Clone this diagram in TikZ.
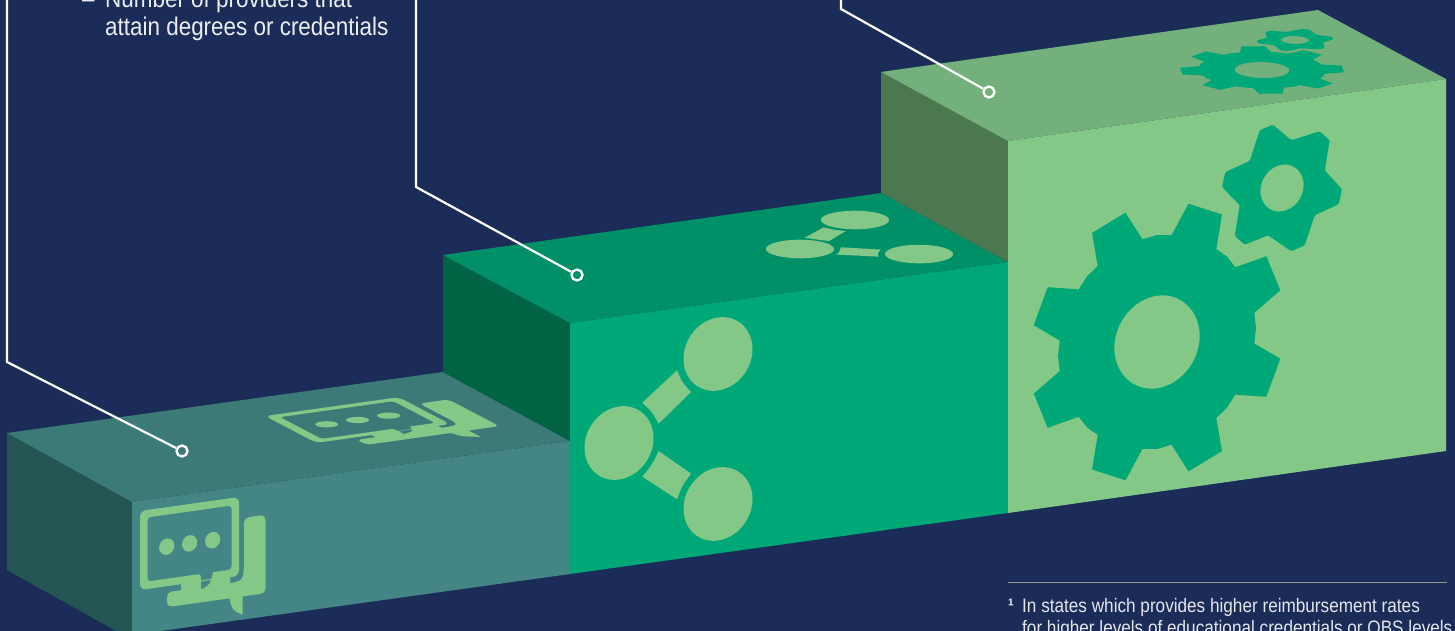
\documentclass[tikz,border=0pt]{standalone}
\usepackage{fontspec}
\setmainfont[FakeStretch=0.88]{Liberation Sans}
\definecolor{navy}{HTML}{1B2C58}
\definecolor{lowtop}{HTML}{3C7A78}
\definecolor{lowfront}{HTML}{438685}
\definecolor{lowside}{HTML}{235552}
\definecolor{midtop}{HTML}{009068}
\definecolor{midfront}{HTML}{00A878}
\definecolor{midside}{HTML}{006444}
\definecolor{hightop}{HTML}{74B07B}
\definecolor{highfront}{HTML}{84C888}
\definecolor{highside}{HTML}{4C7850}
\newcommand{\biggeargl}{%
  \fill[even odd rule]
    (0,-107) -- (14.5,-104.7) -- (31.5,-133.8) -- (65,-118.3) -- (59.3,-84.5) -- (70,-75.5)
    -- (78.3,-63.7) -- (109.3,-70.3) -- (123.3,-34.2) -- (97.3,-15.3) -- (99,0)
    -- (97.3,15.3) -- (123.3,34.2) -- (109.3,70.3) -- (78.3,63.7) -- (70,75.5)
    -- (59.3,84.5) -- (65,118.3) -- (31.5,133.8) -- (14.5,104.7) -- (0,107)
    -- (-14.5,104.7) -- (-31.5,133.8) -- (-65,118.3) -- (-59.3,84.5) -- (-70,75.5)
    -- (-78.3,63.7) -- (-109.3,70.3) -- (-123.3,34.2) -- (-97.3,15.3) -- (-99,0)
    -- (-97.3,-15.3) -- (-123.3,-34.2) -- (-109.3,-70.3) -- (-78.3,-63.7) -- (-70,-75.5)
    -- (-59.3,-84.5) -- (-65,-118.3) -- (-31.5,-133.8) -- (-14.5,-104.7) -- cycle
    (0,0) ellipse [x radius=42.7pt,y radius=46.3pt];
}
\newcommand{\smallgeargl}{%
  \fill[even odd rule,rounded corners=1.5pt]
    (-9,-64.6) -- (9.3,-46.4) -- (37.7,-51.4) -- (47.7,-40.9) -- (42.7,-11.7) -- (60,9.8)
    -- (56.7,24.3) -- (32.7,31.9) -- (22.7,60.5) -- (9.3,64.6) -- (-14,45.3) -- (-37.3,51.4)
    -- (-47.3,41.3) -- (-42.3,11.3) -- (-60,-9.5) -- (-56.7,-24) -- (-32.3,-31.6) -- (-22.3,-60.9) -- cycle
    (0,0) ellipse [x radius=21.7pt,y radius=23.4pt];
}
\newcommand{\sharegl}{%
  \fill (0,0) ellipse [x radius=34.5pt,y radius=36.5pt];
  \fill (99,-75) ellipse [x radius=34.5pt,y radius=36.5pt];
  \fill (99,75) ellipse [x radius=34.5pt,y radius=36.5pt];
  \fill (23.3,-37) -- (58,-64.5) .. controls (63.3,-51.5) .. (72,-40.8) -- (39.7,-13.7) .. controls (33,-26.5) .. cycle;
  \fill (23.3,37) -- (58,64.5) .. controls (63.3,51.5) .. (72,40.8) -- (39.7,13.7) .. controls (33,26.5) .. cycle;
}
\newcommand{\speechgl}{%
  \fill (0,0) [rounded corners=6pt] -- (99,0) -- (99,79) -- (0,79) -- cycle
    (7.5,7.5) [rounded corners=3pt] -- (7.5,71.5) -- (61,71.5) [sharp corners] -- (61,87) .. controls (70,84) .. (73,71.5)
    [rounded corners=3pt] -- (91.5,71.5) -- (91.5,7.5) -- cycle
    [sharp corners] (41,78) -- (90,78) -- (90,85)
    .. controls (103,84) .. (104,70) [rounded corners=5pt] -- (104,21.5) -- (125.5,21.5) -- (125.5,100)
    [sharp corners] -- (102.6,100) -- (102.6,118.5) .. controls (92,112) .. (89.6,100)
    [rounded corners=5pt] -- (27,100) -- (27,85) [sharp corners] -- (41,85) -- cycle;
  \foreach \u in {26.7,49.6,72.6}
    \fill (\u,39.4) ellipse [x radius=7.6pt,y radius=8.2pt];
}
\begin{document}
\begin{tikzpicture}[
  x=1pt,y=-1pt,
  leader/.style={white,line width=2.2pt},
  dot/.style={circle,draw=white,line width=2.3pt,minimum size=11pt,inner sep=0pt},
  label/.style={anchor=base west,inner sep=0pt,text=white!92!navy,font=\fontsize{25.5}{28}\selectfont},
  note/.style={anchor=base west,inner sep=0pt,text=white!88!navy,font=\fontsize{19.5}{22}\selectfont}
]
  \useasboundingbox (0,0) rectangle (1455,631);
  \clip (0,0) rectangle (1455,631);
  \fill[navy] (0,0) rectangle (1455,631);

  \fill[lowside] (7,433)--(132,502)--(132,640)--(7,570)--cycle;
  \fill[lowtop] (7,433)--(443,372)--(570,441)--(132,502)--cycle;
  \fill[lowfront] (132,502)--(570,441)--(570,574)--(132,635)--cycle;
  \fill[midside] (443,255)--(570,323)--(570,441)--(443,372)--cycle;
  \fill[midtop] (443,255)--(881,193)--(1008,262)--(570,323)--cycle;
  \fill[midfront] (570,323)--(1008,262)--(1008,513)--(570,574)--cycle;
  \fill[highside] (881,72)--(1008,141)--(1008,262)--(881,193)--cycle;
  \fill[hightop] (881,72)--(1318,10)--(1446,79)--(1008,141)--cycle;
  \fill[highfront] (1008,141)--(1446,79)--(1446,451)--(1008,513)--cycle;

  \begin{scope}[midfront,cm={1,0.1416,0,1,(1157,342)}]
    \biggeargl
  \end{scope}
  \begin{scope}[midfront,cm={1,0.1416,0,1,(1282,188)}]
    \smallgeargl
  \end{scope}
  \begin{scope}[midfront,cm={.565,.08,-.288,.157,(1262,70)}]
    \biggeargl
  \end{scope}
  \begin{scope}[midfront,cm={.565,.08,-.288,.157,(1295,40)}]
    \smallgeargl
  \end{scope}
  \begin{scope}[highfront,cm={1,0.1416,0,1,(619,443)}]
    \sharegl
  \end{scope}
  \begin{scope}[highfront,cm={.879,.121,-.427,.227,(800,249)}]
    \sharegl
  \end{scope}
  \begin{scope}[highfront,cm={1,0.1416,0,1,(140,511)}]
    \speechgl
  \end{scope}
  \begin{scope}[highfront,cm={1.35,.19,-.65,.34,(265,416)}]
    \speechgl
  \end{scope}

  \node[dot] (dotlow) at (182,451) {};
  \node[dot] (dotmid) at (577,275) {};
  \node[dot] (dothigh) at (989,92) {};
  \coordinate (startlow) at (7,-2);
  \coordinate (bendlow) at (7,362);
  \coordinate (startmid) at (416,-2);
  \coordinate (bendmid) at (416,187);
  \coordinate (starthigh) at (841,-2);
  \coordinate (bendhigh) at (841,9);
  \draw[leader] (startlow)--(bendlow)--(dotlow);
  \draw[leader] (startmid)--(bendmid)--(dotmid);
  \draw[leader] (starthigh)--(bendhigh)--(dothigh);

  \node[label] (dash) at (82,7.5) {–};
  \node[label] (provone) at (105,7.5) {Number of providers that};
  \node[label] (provtwo) at (105,36) {attain degrees or credentials};

  \coordinate (ruleleft) at (1008,582);
  \coordinate (ruleright) at (1447,582);
  \draw[gray!85,line width=1pt] (ruleleft)--(ruleright);
  \node[note] (mark) at (1008,612) {\bfseries ¹};
  \node[note] (noteone) at (1022,612) {In states which provides higher reimbursement rates};
  \node[note] (notetwo) at (1022,634) {for higher levels of educational credentials or QBS levels.};
\end{tikzpicture}
\end{document}
